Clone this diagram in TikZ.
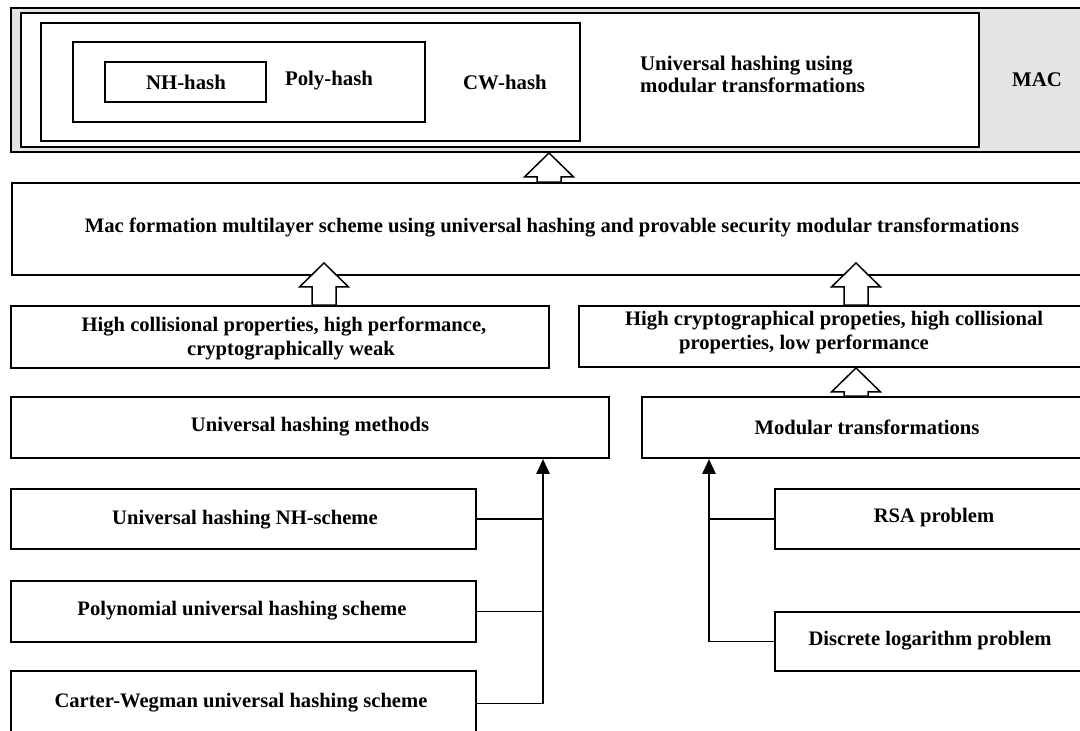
\documentclass[tikz,border=0pt]{standalone}
\usepackage{fontspec}
\setmainfont{Liberation Serif}
\usetikzlibrary{arrows.meta,calc,fit}
\definecolor{macgray}{RGB}{228,228,228}

% hollow block arrow: #2 = foot of the shaft, #3 = tip
\newcommand\hollowarrow[3][24]{%
  \draw[hollow] let \p1=#2, \p2=#3 in
    (\x1-12pt,\y1) -- (\x1-12pt,\y2-#1pt) -- (\x1-24.5pt,\y2-#1pt) -- (\x2,\y2)
    -- (\x1+24.5pt,\y2-#1pt) -- (\x1+12pt,\y2-#1pt) -- (\x1+12pt,\y1) -- cycle;}

\begin{document}
\begin{tikzpicture}[x=1pt,y=-1pt,
  box/.style={draw=black, line width=1.9pt, fill=white, inner sep=0pt},
  lbl/.style={font=\fontsize{20.6}{24}\selectfont\bfseries, align=center, inner sep=0pt},
  toplbl/.style={font=\fontsize{20.8}{22}\selectfont\bfseries, inner sep=0pt},
  hollow/.style={draw=black, line width=1.5pt, fill=white, line join=miter},
  conn/.style={line width=1.9pt},
  bus/.style={line width=2.8pt},
  tip/.style={-{Triangle[width=13pt,length=15pt]}}
]
\useasboundingbox (0,0) rectangle (1080,731);
\clip (0,0) rectangle (1080,731);

% top layer: MAC frame with nested hash families
\node[box, fill=macgray, fit={(11,8) (1100,152)}] (frame) {};
\node[box, fit={(21,13) (979,147)}] (uhmt) {};
\node[box, fit={(41,23) (580,141)}] (cw) {};
\node[box, fit={(73,42) (425,122)}] (poly) {};
\node[box, fit={(105,62) (266,102)}] (nh) {};
\node[toplbl] (t-nh) at (186,82) {NH-hash};
\node[toplbl] (t-poly) at (329,81) {Poly-hash};
\node[toplbl] (t-cw) at (505,82) {CW-hash};
\node[toplbl, align=left, anchor=west] (t-uhmt) at (640,74) {Universal hashing using\\modular transformations};
\node[toplbl] (t-mac) at (1037,80) {MAC};

% multilayer scheme
\node[box, fit={(12,183) (1100,275)}] (mid) {};
\node[lbl] (t-mid) at (552,228) {Mac formation multilayer scheme using universal hashing and provable security modular transformations};

% properties
\node[box, fit={(11,306) (549,368)}] (hcl) {};
\node[lbl] (t-hcl) at (284,339) {High collisional properties, high performance,\\\hspace*{14pt}cryptographically weak};
\node[box, fit={(579,306) (1100,367)}] (hcr) {};
\node[lbl, align=left, anchor=west] (t-hcr) at (625,333) {High cryptographical propeties, high collisional\\\hspace*{54pt}properties, low performance};

% method families
\node[box, fit={(11,397) (609,458)}] (uhm) {};
\node[lbl] (t-uhm) at (310,427) {Universal hashing methods};
\node[box, fit={(642,397) (1100,458)}] (mod) {};
\node[lbl] (t-mod) at (867,427) {Modular transformations};

% individual schemes and problems
\node[box, fit={(11,489) (476,549)}] (nhs) {};
\node[lbl] (t-nhs) at (245,520) {Universal hashing NH-scheme};
\node[box, fit={(11,581) (476,642)}] (pus) {};
\node[lbl] (t-pus) at (242,611) {Polynomial universal hashing scheme};
\node[box, fit={(11,671) (476,736)}] (cws) {};
\node[lbl] (t-cws) at (241,703) {Carter-Wegman universal hashing scheme};
\node[box, fit={(775,489) (1100,549)}] (rsa) {};
\node[lbl] (t-rsa) at (934,518) {RSA problem};
\node[box, fit={(775,612) (1100,671)}] (dlp) {};
\node[lbl] (t-dlp) at (930,641) {Discrete logarithm problem};

% block arrows between layers
\hollowarrow{(549,0 |- mid.north)}{(549,0 |- frame.south)}
\hollowarrow{(324,0 |- hcl.north)}{($(324,0 |- mid.south)+(0,-13)$)}
\hollowarrow{(856,0 |- hcr.north)}{($(856,0 |- mid.south)+(0,-13)$)}
\hollowarrow{(856,0 |- mod.north)}{(856,0 |- hcr.south)}

% collecting lines, left
\draw[bus,tip] (543,0 |- nhs.east) -- (543,0 |- uhm.south);
\draw[conn] (nhs.east) -- (543,0 |- nhs.east);
\draw[conn] (pus.east) -- (543,0 |- pus.east);
\draw[conn] (cws.east) -| (543,0 |- nhs.east);

% collecting lines, right
\draw[bus,tip] (709,0 |- rsa.west) -- (709,0 |- mod.south);
\draw[conn] (rsa.west) -- (709,0 |- rsa.west);
\draw[conn] (dlp.west) -| (709,0 |- rsa.west);
\end{tikzpicture}
\end{document}
